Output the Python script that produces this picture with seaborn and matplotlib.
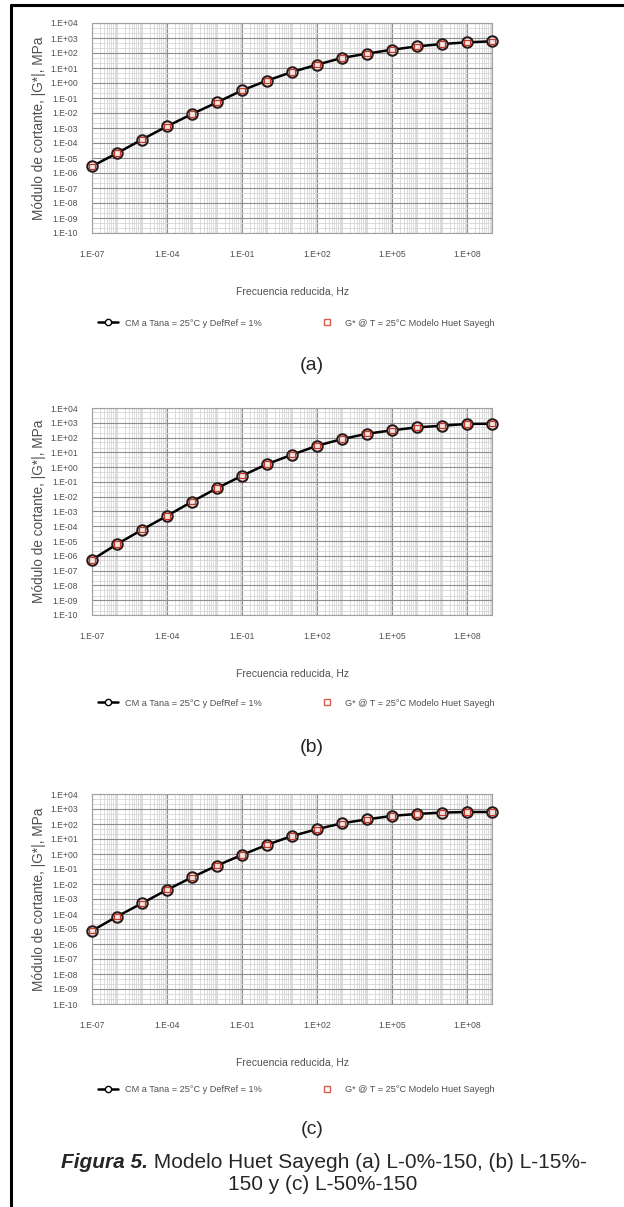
import numpy as np
import matplotlib
matplotlib.use("Agg")
import matplotlib.pyplot as plt
import seaborn as sns
from matplotlib.ticker import FixedLocator, FixedFormatter, NullFormatter
from matplotlib.lines import Line2D

# datos
freq = [1e-7, 1e-6, 1e-5, 1e-4, 1e-3, 1e-2, 1e-1, 1e0, 1e1, 1e2,
        1e3, 1e4, 1e5, 1e6, 1e7, 1e8, 1e9]
g_a = [2.8e-6, 2.1e-5, 1.7e-4, 1.3e-3, 8.5e-3, 5.1e-2, 0.32, 1.45, 5.4, 16.6,
       47, 91, 166, 275, 398, 513, 603]
g_b = [5.4e-7, 6.2e-6, 5.8e-5, 5.1e-4, 4.6e-3, 3.8e-2, 0.26, 1.6, 6.9, 28,
       79, 182, 309, 490, 631, 832, 871]
g_c = [7.6e-6, 6.8e-5, 5.2e-4, 4.1e-3, 2.8e-2, 0.17, 0.87, 4.1, 15.8, 45,
       112, 204, 347, 468, 575, 631, 631]
paneles = ["(a)", "(b)", "(c)"]
series = [g_a, g_b, g_c]

x_ticks = [1e-7, 1e-4, 1e-1, 1e2, 1e5, 1e8]
x_labels = ["1.E-07", "1.E-04", "1.E-01", "1.E+02", "1.E+05", "1.E+08"]
y_exp = list(range(-10, 5))
y_labels = ["1.E%+03d" % e for e in y_exp]

lab_cm = "CM a Tana = 25°C y DefRef = 1%"
lab_hs = "G* @ T = 25°C Modelo Huet Sayegh"

sns.set_style("white")
plt.rcParams['font.family'] = ['Liberation Sans', 'DejaVu Sans']

W, H = 624, 1207
fig = plt.figure(figsize=(W / 100, H / 100), dpi=100)

# marco (solo arriba e izquierda visibles)
fig.add_artist(Line2D([11 / W, 11 / W], [0, 1 - 5 / H], color="black", lw=2.2))
fig.add_artist(Line2D([11 / W, 1], [1 - 5 / H, 1 - 5 / H], color="black", lw=2.2))

# (top, bottom, leyenda y, etiqueta y) en pixeles
pos = [(23, 233, 323, 365), (408, 615, 703, 748), (794, 1004, 1090, 1130)]
gris = "#505050"

for (top, bot, legy, ylab), g, pan in zip(pos, series, paneles):
    ax = fig.add_axes([92 / W, 1 - bot / H, 400 / W, (bot - top) / H])
    ax.set_xscale("log")
    ax.set_yscale("log")
    ax.set_xlim(1e-7, 1e9)
    ax.set_ylim(1e-10, 1e4)

    # rejilla
    ax.xaxis.set_major_locator(FixedLocator(x_ticks))
    ax.xaxis.set_major_formatter(FixedFormatter(x_labels))
    xmin = [m * 10.0 ** e for e in range(-7, 9) for m in range(1, 10)]
    ax.xaxis.set_minor_locator(FixedLocator(xmin))
    ax.xaxis.set_minor_formatter(NullFormatter())
    ax.yaxis.set_major_locator(FixedLocator([10.0 ** e for e in y_exp]))
    ax.yaxis.set_major_formatter(FixedFormatter(y_labels))
    ymin = [m * 10.0 ** e for e in range(-10, 4) for m in (2, 5)]
    ax.yaxis.set_minor_locator(FixedLocator(ymin))
    ax.yaxis.set_minor_formatter(NullFormatter())
    ax.grid(which="major", color="#8e8e8e", lw=0.8)
    ax.grid(which="minor", color="#d6d6d6", lw=0.6)
    ax.set_axisbelow(True)
    for s in ax.spines.values():
        s.set_color("#a0a0a0")
        s.set_linewidth(0.8)
    ax.tick_params(which="both", length=0, labelsize=6.2, colors=gris)
    ax.tick_params(axis="y", pad=10)
    ax.tick_params(axis="x", pad=12)

    sns.lineplot(x=freq, y=g, ax=ax, color="black", lw=1.8, marker="o",
                 markersize=7.5, markerfacecolor="#f3e6e3",
                 markeredgecolor="#2a1a1a", markeredgewidth=1.5, clip_on=False,
                 zorder=3)
    sns.scatterplot(x=freq, y=g, ax=ax, marker="s", s=15, facecolor="none",
                    edgecolor="#c0392b", linewidth=0.9, clip_on=False, zorder=4)

    ax.set_xlabel("Frecuencia reducida, Hz", fontsize=7.5, color=gris, labelpad=20)
    ax.set_ylabel("Módulo de cortante, |G*|, MPa", fontsize=9.8, color=gris,
                  labelpad=3)

    h1 = Line2D([], [], color="black", lw=1.8, marker="o", markersize=4.5,
                markerfacecolor="white", markeredgecolor="black")
    h2 = Line2D([], [], color="none", marker="s", markersize=4,
                markerfacecolor="none", markeredgecolor="#d06050")
    leg_y = (bot - legy) / (bot - top)
    ax.legend([h1, h2], [lab_cm, lab_hs], ncol=2, loc="center",
              bbox_to_anchor=(0.51, leg_y), frameon=False, fontsize=6.6,
              labelcolor=gris, columnspacing=6, handlelength=2.2)

    fig.text(312 / W, 1 - ylab / H, pan, ha="center", va="center", fontsize=14)

# pie de figura
fig.canvas.draw()
r = fig.canvas.get_renderer()
t1 = fig.text(0, 1 - 1162 / H, "Figura 5.", fontsize=15, weight="bold",
              style="italic", va="center")
t2 = fig.text(0, 1 - 1162 / H, " Modelo Huet Sayegh (a) L-0%-150, (b) L-15%-",
              fontsize=15, va="center")
w1 = t1.get_window_extent(r).width
w2 = t2.get_window_extent(r).width
x0 = 324 - (w1 + w2) / 2
t1.set_x(x0 / W)
t2.set_x((x0 + w1) / W)
fig.text(323 / W, 1 - 1185 / H, "150 y (c) L-50%-150", fontsize=15,
         ha="center", va="center")

fig.savefig("out.png", dpi=100)
